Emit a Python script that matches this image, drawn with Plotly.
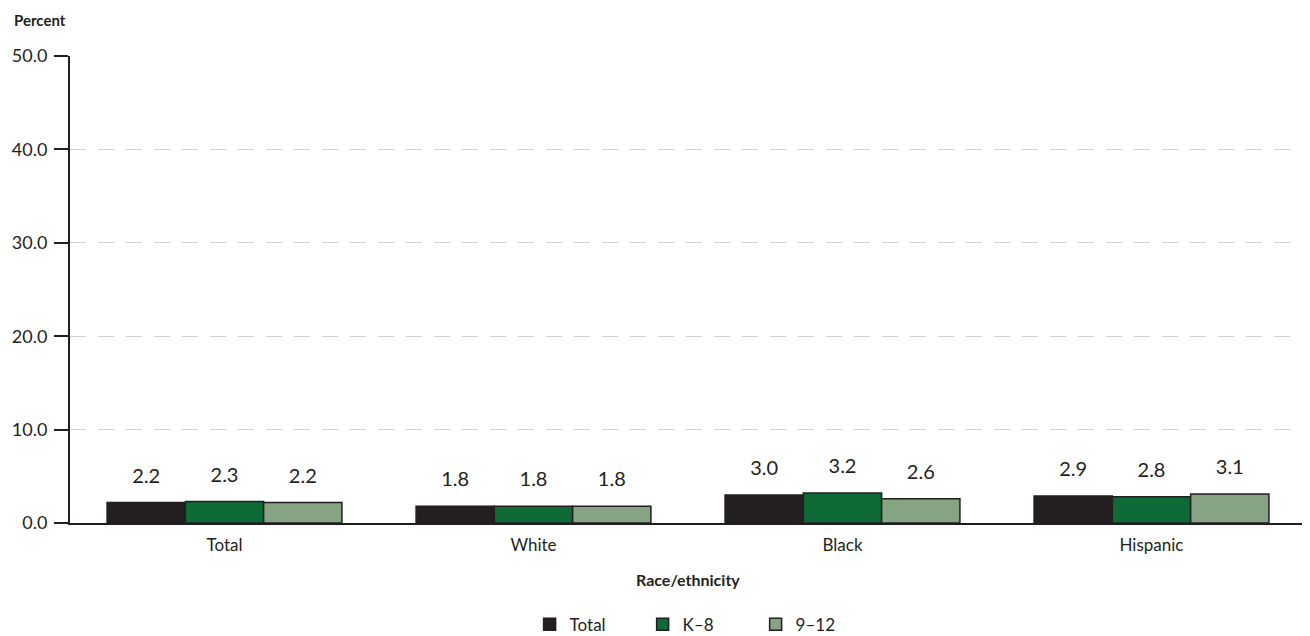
import plotly.graph_objects as go

categories = ["Total", "White", "Black", "Hispanic"]
series_names = ["Total", "K\u20138", "9\u201312"]
total_vals = [2.2, 1.8, 3.0, 2.9]
k8_vals = [2.3, 1.8, 3.2, 2.8]
g912_vals = [2.2, 1.8, 2.6, 3.1]
y_ticks = [0, 10, 20, 30, 40, 50]

colors = ["#231f20", "#0e6b38", "#86a383"]
FONT = "Century Gothic, Lato, DejaVu Sans, sans-serif"

fig = go.Figure()
for i, (name, vals, col) in enumerate(zip(series_names, [total_vals, k8_vals, g912_vals], colors)):
    fig.add_trace(go.Bar(
        x=categories, y=vals, name=name, offsetgroup=str(i),
        marker=dict(color=col, line=dict(color="#231f20", width=1.5)),
        hoverinfo="x+y+name",
    ))
for i, vals in enumerate([total_vals, k8_vals, g912_vals]):
    fig.add_trace(go.Scatter(
        x=categories, y=vals, offsetgroup=str(i), mode="markers+text",
        text=[f"{v:.1f}" for v in vals], textposition="top center",
        textfont=dict(size=20, color="#231f20", family=FONT),
        marker=dict(size=22, color="rgba(0,0,0,0)"),
        showlegend=False, hoverinfo="skip", cliponaxis=False,
    ))

fig.update_layout(
    width=1310, height=636,
    margin=dict(l=62, r=12, t=48, b=121, autoexpand=False),
    plot_bgcolor="white", paper_bgcolor="white",
    barmode="group", bargap=0.24, bargroupgap=0,
    scattermode="group", scattergap=0.24,
    font=dict(family=FONT, size=17, color="#231f20"),
    showlegend=True,
    legend=dict(orientation="h", x=0.509, xanchor="center", y=-0.218, yanchor="middle",
                font=dict(size=17), traceorder="normal", itemwidth=30,
                entrywidth=68, entrywidthmode="pixels"),
    yaxis=dict(range=[0, 50], tickvals=y_ticks, tickformat=".1f", automargin=False,
               showline=True, linecolor="#231f20", linewidth=2,
               ticks="outside", ticklen=14, tickwidth=2, tickcolor="#231f20",
               showgrid=True, gridcolor="#d0d0d0", griddash="16px,12px", gridwidth=1,
               zeroline=False, tickfont=dict(size=18), ticklabelstandoff=3),
    xaxis=dict(showline=True, linecolor="#231f20", linewidth=2, ticks="", automargin=False,
               tickfont=dict(size=17), showgrid=False, ticklabelstandoff=6),
    annotations=[
        dict(text="<b>Percent</b>", xref="paper", yref="paper", x=-0.047, y=1.077,
             xanchor="left", yanchor="middle", showarrow=False, font=dict(size=15)),
        dict(text="<b>Race/ethnicity</b>", xref="paper", yref="paper", x=0.5, y=-0.122,
             xanchor="center", yanchor="middle", showarrow=False, font=dict(size=16)),
    ],
)

fig.write_html("out.html")
